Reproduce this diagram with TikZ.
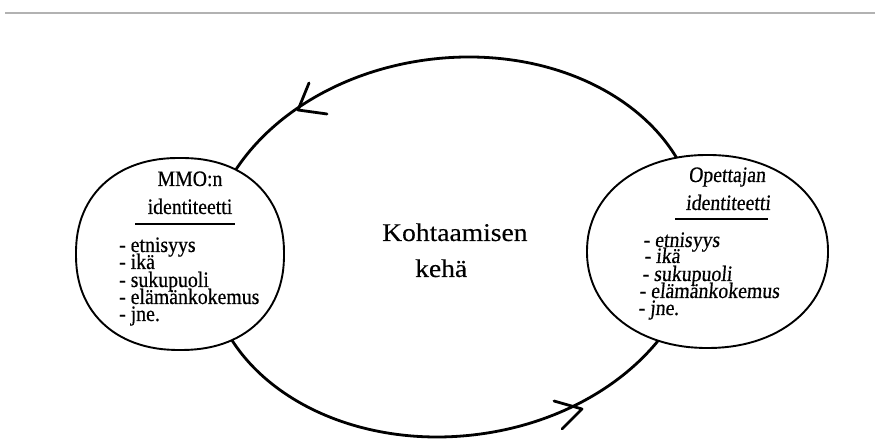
\documentclass[tikz,border=0pt]{standalone}
\usepackage{fontspec}
\setmainfont{Liberation Serif}
\newfontfamily\listfont[FakeBold=0.5,FakeStretch=0.9]{Liberation Serif}
\newfontfamily\slantfont[FakeSlant=0.1,FakeBold=0.5,FakeStretch=0.9]{Liberation Serif}
\newfontfamily\centrefont[FakeStretch=1.08,FakeBold=0.3]{Liberation Serif}
\begin{document}
\begin{tikzpicture}[x=1pt,y=1pt,
  ring/.style={line width=2.8pt,black},
  idcircle/.style={draw,line width=1.9pt,fill=white},
  txt/.style={inner sep=0pt,font=\fontsize{22}{20}\listfont},
  stxt/.style={inner sep=0pt,font=\fontsize{22}{20}\slantfont},
  ctxt/.style={inner sep=0pt,font=\fontsize{25.5}{26}\centrefont},
  uline/.style={line width=1.9pt},
  tip/.style={line width=2.8pt,line cap=round,line join=round}]
\useasboundingbox (0,0) rectangle (875,443);
% top rule
\coordinate (r1) at (5,430);
\coordinate (r2) at (875,430);
\draw[line width=1.3pt,black!30] (r1) -- (r2);
% big ring
\coordinate (rc) at (453,196);
\draw[ring,rotate around={7:(rc)}] (rc) ellipse [x radius=246,y radius=189];
% arrowheads
\coordinate (ta1) at (309,360);
\coordinate (tt) at (298,333);
\coordinate (ta2) at (327,329);
\draw[tip] (ta1) -- (tt) -- (ta2);
\coordinate (ba1) at (554,42);
\coordinate (bt) at (582,34);
\coordinate (ba2) at (562,14);
\draw[tip] (ba1) -- (bt) -- (ba2);
% circles (hand-drawn)
\draw[idcircle] plot[domain=1:361,samples=121,variable=\t]
  ({180+104*sign(cos(\t))*pow(abs(cos(\t)),0.9)},
   {189+96*sign(sin(\t))*pow(abs(sin(\t)),0.9)}) -- cycle;
\draw[idcircle] plot[domain=1:361,samples=121,variable=\t]
  ({707.5+120.5*sign(cos(\t))*pow(abs(cos(\t)),0.95)},
   {191.5+96.5*sign(sin(\t))*pow(abs(sin(\t)),0.95)}) -- cycle;
% left text
\node[txt,anchor=base] (m1) at (190,257) {MMO:n};
\node[txt,anchor=base] (m2) at (190,229) {identiteetti};
\coordinate (mu1) at (135,219);
\coordinate (mu2) at (235,219);
\draw[uline] (mu1) -- (mu2);
\node[txt,anchor=base west] (ml1) at (119,191) {- etnisyys};
\node[txt,anchor=base west] (ml2) at (119,174) {- ikä};
\node[txt,anchor=base west] (ml3) at (119,156) {- sukupuoli};
\node[txt,anchor=base west] (ml4) at (119,139) {- elämänkokemus};
\node[txt,anchor=base west] (ml5) at (119,122) {- jne.};
% right text
\node[stxt,anchor=base] (o1) at (727,261) {Opettajan};
\node[stxt,anchor=base] (o2) at (728,233) {identiteetti};
\coordinate (ou1) at (675,224);
\coordinate (ou2) at (768,224);
\draw[uline] (ou1) -- (ou2);
\node[stxt,anchor=base west] (ol1) at (643,196) {- etnisyys};
\node[stxt,anchor=base west] (ol2) at (644,180) {- ikä};
\node[stxt,anchor=base west] (ol3) at (642,162) {- sukupuoli};
\node[stxt,anchor=base west] (ol4) at (639,145) {- elämänkokemus};
\node[stxt,anchor=base west] (ol5) at (638,128) {- jne.};
% centre text
\node[ctxt,anchor=base west] (k1) at (382,202) {Kohtaamisen};
\node[ctxt,anchor=base west] (k2) at (415,166) {kehä};
\end{tikzpicture}
\end{document}
